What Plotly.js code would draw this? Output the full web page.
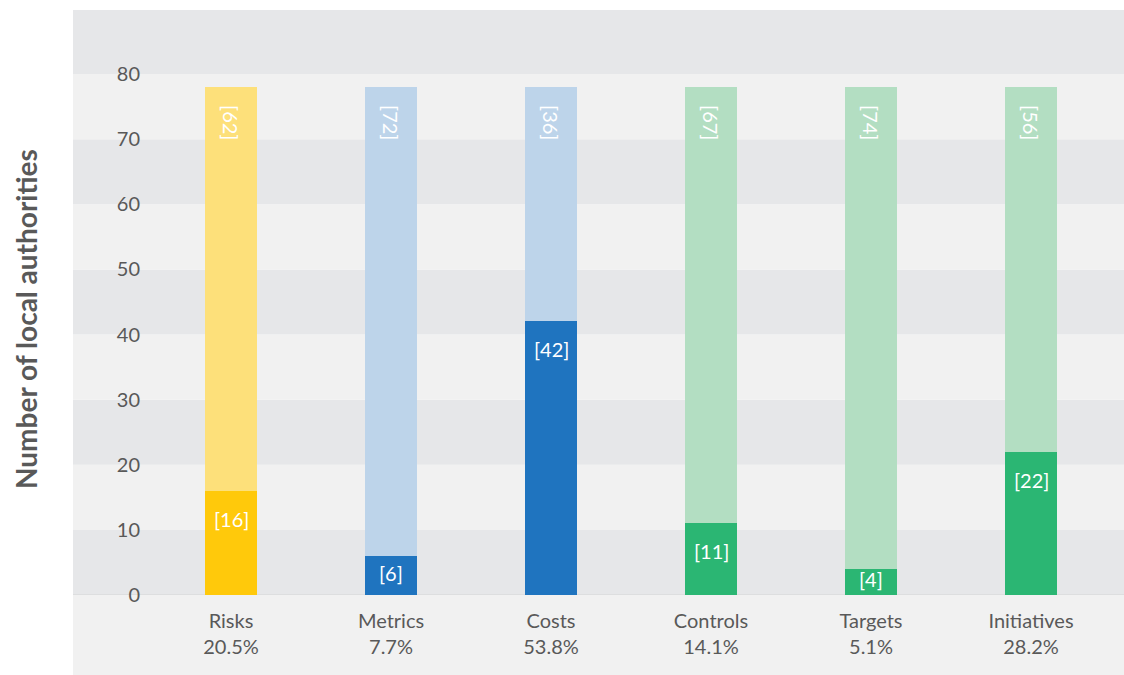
<!DOCTYPE html>
<html><head><meta charset="utf-8">
<script src="https://cdn.plot.ly/plotly-3.0.1.min.js"></script>
<style>body{margin:0;background:#fff}#chart{width:1124px;height:675px}</style>
</head><body><div id="chart"></div>
<script>
const categories = ["Risks","Metrics","Costs","Controls","Targets","Initiatives"];
const shares = ["20.5%","7.7%","53.8%","14.1%","5.1%","28.2%"];
const yesValues = [16,6,42,11,4,22];
const noValues = [62,72,36,67,74,56];
const darkColors = ["#FFC90B","#1F74BF","#1F74BF","#2BB673","#2BB673","#2BB673"];
const lightColors = ["#FDE07A","#BDD4EA","#BDD4EA","#B3DEC2","#B3DEC2","#B3DEC2"];
const yTicks = [0,10,20,30,40,50,60,70,80];
const yTitle = "Number of local authorities";

const tickText = categories.map((c,i)=>c+"<br>"+shares[i]);
const font = "Lato, 'Open Sans', sans-serif";
const yMax = 89.83;
const pxPerUnit = 585 / yMax;

const traces = [
 {type:"bar", x:categories, y:yesValues, marker:{color:darkColors}, hoverinfo:"skip"},
 {type:"bar", x:categories, y:noValues, marker:{color:lightColors}, hoverinfo:"skip"}
];

const annotations = [];
categories.forEach((c,i)=>{
  const v = yesValues[i];
  annotations.push({x:c, y:v - Math.min(28/pxPerUnit, v/2 - 0.4), xref:"x", yref:"y",
    text:"["+v+"]", showarrow:false, xanchor:"center", yanchor:"middle",
    font:{color:"#fff", size:20, family:font}});
  const total = v + noValues[i];
  annotations.push({x:c, y:total, xref:"x", yref:"y", yshift:-35,
    text:"["+noValues[i]+"]", showarrow:false, textangle:90, xanchor:"center", yanchor:"middle",
    font:{color:"#fff", size:20, family:font}});
});
annotations.push({xref:"paper", yref:"paper", x:(26-151)/960, y:(595-319)/585,
  text:"<b>"+yTitle+"</b>", showarrow:false, textangle:-90, xanchor:"center", yanchor:"middle",
  font:{size:28, color:"#595959", family:font}});

const shapes = [];
const x0 = -78/960, x1 = 1+13/960;
for (let k=0;k<9;k++){
  const lo=k*10, hi=(k+1)*10;
  shapes.push({type:"rect", xref:"paper", yref:"y", x0:x0, x1:x1, y0:lo, y1:(k===8?yMax:hi),
    fillcolor:(k%2===0?"#E6E7E9":"#F1F1F1"), line:{width:0}, layer:"below"});
}
shapes.push({type:"rect", xref:"paper", yref:"paper", x0:x0, x1:x1, y0:-80/585, y1:0,
  fillcolor:"#F1F1F1", line:{width:0}, layer:"below"});
shapes.push({type:"line", xref:"paper", yref:"y", x0:x0, x1:x1, y0:0, y1:0,
  line:{color:"#D4D4D4", width:1}, layer:"below"});

const layout = {
  width:1124, height:675,
  margin:{l:151, r:13, t:10, b:80},
  paper_bgcolor:"#fff", plot_bgcolor:"rgba(0,0,0,0)",
  barmode:"stack", bargap:0.67, showlegend:false,
  font:{family:font, color:"#595959"},
  xaxis:{tickvals:categories, ticktext:tickText, showgrid:false, zeroline:false,
    showline:false, ticks:"", ticklabelstandoff:12, tickfont:{size:20, color:"#595959", family:font}},
  yaxis:{range:[0,yMax], tickvals:yTicks, showgrid:false, zeroline:false, showline:false,
    ticks:"", ticklabelstandoff:10, tickfont:{size:20, color:"#595959", family:font}},
  shapes:shapes, annotations:annotations
};
Plotly.newPlot("chart", traces, layout, {displayModeBar:false, staticPlot:true});
</script></body></html>
